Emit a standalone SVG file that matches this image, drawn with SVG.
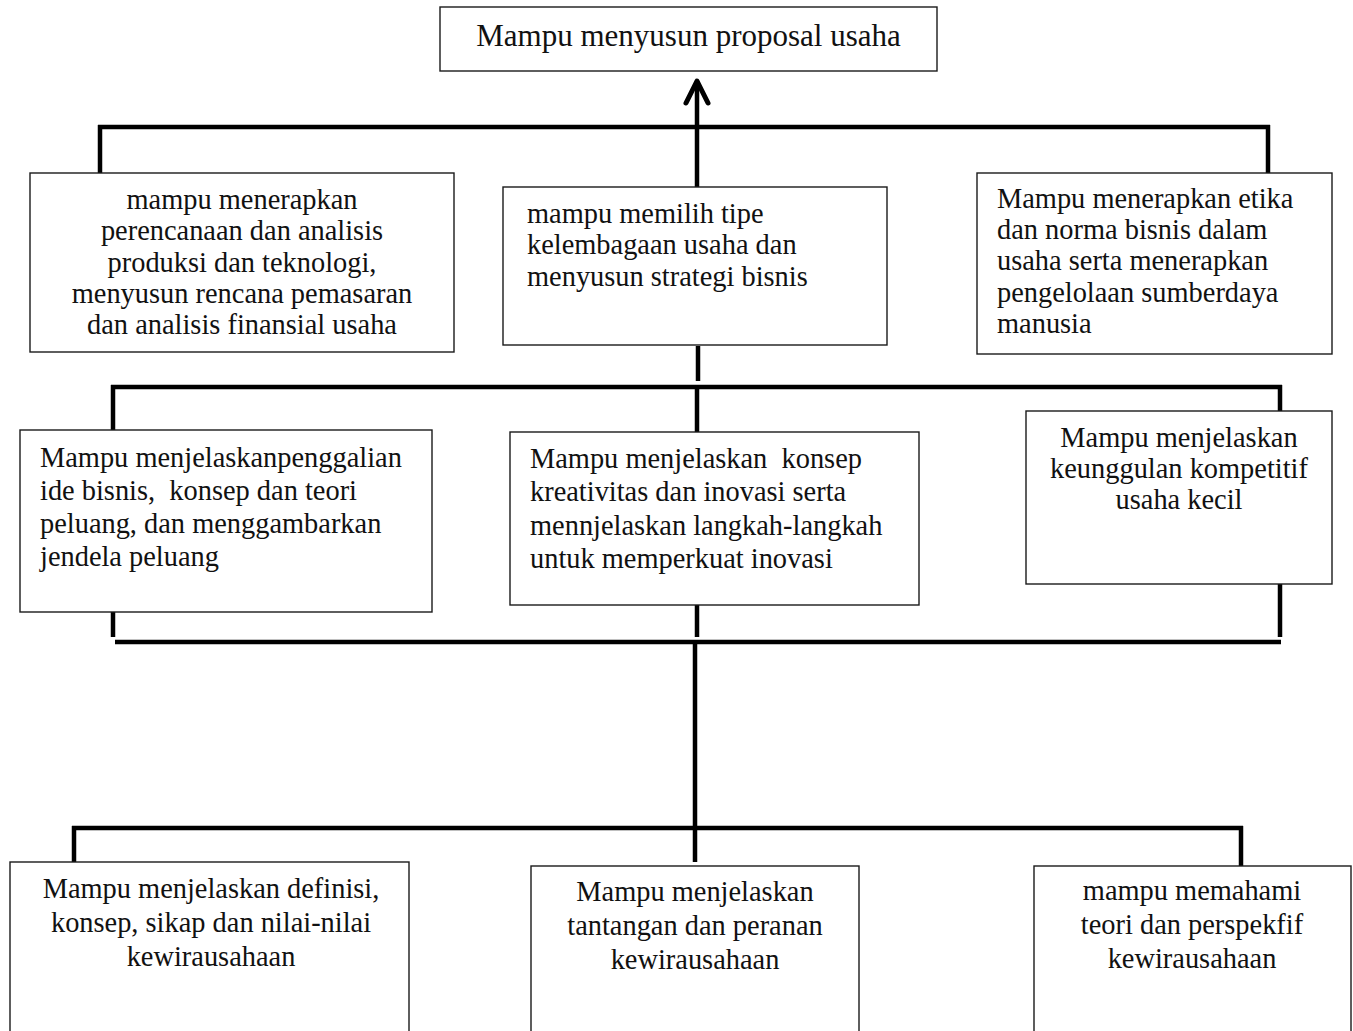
<svg xmlns="http://www.w3.org/2000/svg" width="1353" height="1031" viewBox="0 0 1353 1031">
<style>
.box{fill:#fff;stroke:#1a1a1a;stroke-width:1.4}
.t{font-family:"Liberation Serif","Times New Roman",serif;font-size:28.4px;fill:#111;white-space:pre}
.c{text-anchor:middle}
.conn{stroke:#000;stroke-width:4.5;fill:none}
</style>
<defs>
<marker id="arr" viewBox="-30 -16 34 32" markerUnits="userSpaceOnUse" markerWidth="34" markerHeight="32" refX="0" refY="0" orient="auto" overflow="visible">
<path d="M-22,-11 L0,0 L-22,11" fill="none" stroke="#000" stroke-width="5" stroke-linecap="round" stroke-linejoin="round"/>
</marker>
</defs>
<g id="connectors">
<line class="conn" x1="697" y1="187" x2="697" y2="81" marker-end="url(#arr)"/>
<line class="conn" x1="98" y1="127" x2="1270" y2="127"/>
<line class="conn" x1="100" y1="125" x2="100" y2="173"/>
<line class="conn" x1="1268" y1="125" x2="1268" y2="173"/>
<line class="conn" x1="698" y1="346" x2="698" y2="381"/>
<line class="conn" x1="111" y1="387" x2="1282" y2="387"/>
<line class="conn" x1="113" y1="385" x2="113" y2="430"/>
<line class="conn" x1="697" y1="387" x2="697" y2="432"/>
<line class="conn" x1="1280" y1="385" x2="1280" y2="412"/>
<line class="conn" x1="113" y1="612" x2="113" y2="637"/>
<line class="conn" x1="697" y1="605" x2="697" y2="637"/>
<line class="conn" x1="1280" y1="584" x2="1280" y2="637"/>
<line class="conn" x1="115" y1="642" x2="1281" y2="642"/>
<line class="conn" x1="695" y1="640" x2="695" y2="862"/>
<line class="conn" x1="72" y1="828" x2="1243" y2="828"/>
<line class="conn" x1="74" y1="826" x2="74" y2="862"/>
<line class="conn" x1="1241" y1="826" x2="1241" y2="866"/>
</g>
<g id="node-top">
<rect class="box" x="440" y="7" width="497" height="64"/>
<text class="t c" x="688.5" y="46" style="font-size:31px">Mampu menyusun proposal usaha</text>
</g>
<g id="node-a1">
<rect class="box" x="30" y="173" width="424" height="179"/>
<text class="t c" x="242" y="209">mampu menerapkan</text>
<text class="t c" x="242" y="240">perencanaan dan analisis</text>
<text class="t c" x="242" y="271.5">produksi dan teknologi,</text>
<text class="t c" x="242" y="302.5">menyusun rencana pemasaran</text>
<text class="t c" x="242" y="334">dan analisis finansial usaha</text>
</g>
<g id="node-a2">
<rect class="box" x="503" y="187" width="384" height="158"/>
<text class="t" x="527" y="223">mampu memilih tipe</text>
<text class="t" x="527" y="254">kelembagaan usaha dan</text>
<text class="t" x="527" y="286">menyusun strategi bisnis</text>
</g>
<g id="node-a3">
<rect class="box" x="977" y="173" width="355" height="181"/>
<text class="t" x="997" y="208">Mampu menerapkan etika</text>
<text class="t" x="997" y="239">dan norma bisnis dalam</text>
<text class="t" x="997" y="270">usaha serta menerapkan</text>
<text class="t" x="997" y="302">pengelolaan sumberdaya</text>
<text class="t" x="997" y="333">manusia</text>
</g>
<g id="node-b1">
<rect class="box" x="20" y="430" width="412" height="182"/>
<text class="t" x="40" y="466.5">Mampu menjelaskanpenggalian</text>
<text class="t" x="40" y="500">ide bisnis,  konsep dan teori</text>
<text class="t" x="40" y="533">peluang, dan menggambarkan</text>
<text class="t" x="40" y="565.5">jendela peluang</text>
</g>
<g id="node-b2">
<rect class="box" x="510" y="432" width="409" height="173"/>
<text class="t" x="530" y="468">Mampu menjelaskan  konsep</text>
<text class="t" x="530" y="501">kreativitas dan inovasi serta</text>
<text class="t" x="530" y="535">mennjelaskan langkah-langkah</text>
<text class="t" x="530" y="568">untuk memperkuat inovasi</text>
</g>
<g id="node-b3">
<rect class="box" x="1026" y="411" width="306" height="173"/>
<text class="t c" x="1179" y="447">Mampu menjelaskan</text>
<text class="t c" x="1179" y="478">keunggulan kompetitif</text>
<text class="t c" x="1179" y="509">usaha kecil</text>
</g>
<g id="node-c1">
<rect class="box" x="10" y="862" width="399" height="190"/>
<text class="t c" x="211" y="898">Mampu menjelaskan definisi,</text>
<text class="t c" x="211" y="932">konsep, sikap dan nilai-nilai</text>
<text class="t c" x="211" y="966">kewirausahaan</text>
</g>
<g id="node-c2">
<rect class="box" x="531" y="866" width="328" height="190"/>
<text class="t c" x="695" y="901">Mampu menjelaskan</text>
<text class="t c" x="695" y="935">tantangan dan peranan</text>
<text class="t c" x="695" y="969">kewirausahaan</text>
</g>
<g id="node-c3">
<rect class="box" x="1034" y="866" width="317" height="190"/>
<text class="t c" x="1192" y="900">mampu memahami</text>
<text class="t c" x="1192" y="934">teori dan perspekfif</text>
<text class="t c" x="1192" y="968">kewirausahaan</text>
</g>
</svg>
